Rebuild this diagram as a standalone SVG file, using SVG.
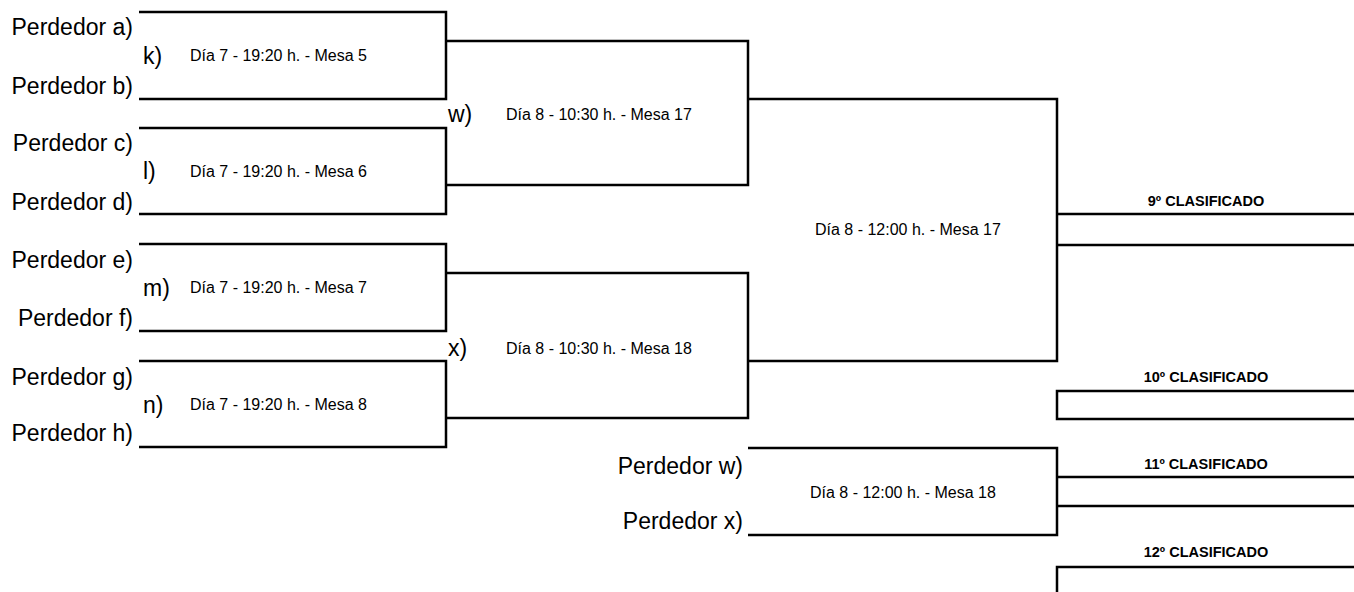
<svg xmlns="http://www.w3.org/2000/svg" width="1354" height="592" viewBox="0 0 1354 592">
<style>
.ln{fill:none;stroke:#000;stroke-width:2.5;stroke-linejoin:miter;stroke-linecap:butt}
.big{font-family:"Liberation Sans",Arial,sans-serif;font-size:23px;fill:#000}
.sm{font-family:"Liberation Sans",Arial,sans-serif;font-size:16px;fill:#000}
.bd{font-family:"Liberation Sans",Arial,sans-serif;font-size:14.5px;font-weight:bold;fill:#000;text-anchor:middle}
.r{text-anchor:end}
</style>
<rect width="1354" height="592" fill="#fff"/>
<g id="connectors">
<path class="ln" d="M139,12 H446 V99 H139"/>
<path class="ln" d="M139,128 H446 V214 H139"/>
<path class="ln" d="M139,244 H446 V331 H139"/>
<path class="ln" d="M139,361 H446 V447 H139"/>
<path class="ln" d="M446,41 H748 V185 H446"/>
<path class="ln" d="M446,273 H748 V418 H446"/>
<path class="ln" d="M748,99 H1057 V361 H748"/>
<path class="ln" d="M1057,214 H1354 M1057,245 H1354"/>
<path class="ln" d="M1354,391 H1057 V419 H1354"/>
<path class="ln" d="M748,448 H1057 V535 H748"/>
<path class="ln" d="M1057,477 H1354 M1057,506 H1354"/>
<path class="ln" d="M1354,567 H1057 V592"/>
</g>
<g id="match-k">
<text class="big r" x="133" y="35">Perdedor a)</text>
<text class="big r" x="133" y="94">Perdedor b)</text>
<text class="big" x="143" y="64">k)</text>
<text class="sm" x="190" y="61">Día 7 - 19:20 h. - Mesa 5</text>
</g>
<g id="match-l">
<text class="big r" x="133" y="151">Perdedor c)</text>
<text class="big r" x="133" y="210">Perdedor d)</text>
<text class="big" x="143" y="179">l)</text>
<text class="sm" x="190" y="177">Día 7 - 19:20 h. - Mesa 6</text>
</g>
<g id="match-m">
<text class="big r" x="133" y="268">Perdedor e)</text>
<text class="big r" x="133" y="326">Perdedor f)</text>
<text class="big" x="143" y="296">m)</text>
<text class="sm" x="190" y="293">Día 7 - 19:20 h. - Mesa 7</text>
</g>
<g id="match-n">
<text class="big r" x="133" y="385">Perdedor g)</text>
<text class="big r" x="133" y="441">Perdedor h)</text>
<text class="big" x="143" y="413">n)</text>
<text class="sm" x="190" y="410">Día 7 - 19:20 h. - Mesa 8</text>
</g>
<g id="match-w">
<text class="big" x="448" y="122">w)</text>
<text class="sm" x="506" y="120">Día 8 - 10:30 h. - Mesa 17</text>
</g>
<g id="match-x">
<text class="big" x="448" y="356">x)</text>
<text class="sm" x="506" y="354">Día 8 - 10:30 h. - Mesa 18</text>
</g>
<g id="match-final-9">
<text class="sm" x="815" y="235">Día 8 - 12:00 h. - Mesa 17</text>
</g>
<g id="match-final-11">
<text class="big r" x="743" y="474">Perdedor w)</text>
<text class="big r" x="743" y="529">Perdedor x)</text>
<text class="sm" x="810" y="498">Día 8 - 12:00 h. - Mesa 18</text>
</g>
<g id="place-9"><text class="bd" x="1206" y="206">9º CLASIFICADO</text></g>
<g id="place-10"><text class="bd" x="1206" y="382">10º CLASIFICADO</text></g>
<g id="place-11"><text class="bd" x="1206" y="469">11º CLASIFICADO</text></g>
<g id="place-12"><text class="bd" x="1206" y="557">12º CLASIFICADO</text></g>
</svg>
